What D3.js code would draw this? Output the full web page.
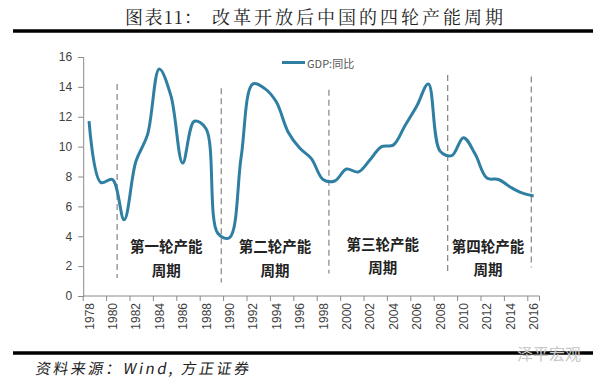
<!DOCTYPE html>
<html><head><meta charset="utf-8">
<script src="https://cdn.jsdelivr.net/npm/d3@7"></script>
<style>body{margin:0;background:#fff}svg{display:block}</style>
</head><body>
<svg id="c" width="600" height="379"></svg>
<script>
const years = d3.range(1978, 2017);
const gdp = [11.7,7.6,7.8,5.1,9.0,10.8,15.2,13.4,8.9,11.7,11.2,4.2,3.9,9.3,14.2,13.9,13.0,11.0,9.9,9.2,7.8,7.7,8.5,8.3,9.1,10.0,10.1,11.4,12.7,14.2,9.7,9.4,10.6,9.5,7.9,7.8,7.3,6.9,6.7];
const yTicks = [0,2,4,6,8,10,12,14,16];
const xTickYears = d3.range(1978, 2017, 2);
const cycleLines = [
  {year:1980.4, top:14.2, bottom:1.2},
  {year:1989.3, top:13.9, bottom:0.9},
  {year:1998.5, top:13.8, bottom:1.5},
  {year:2008.65, top:14.8, bottom:1.4},
  {year:2015.8, top:14.7, bottom:1.9}
];
const cycleLabels = [
  {year:1984.6, v1:3.35, v2:1.8, l1:"第一轮产能", l2:"周期"},
  {year:1993.9, v1:3.35, v2:1.8, l1:"第二轮产能", l2:"周期"},
  {year:2003.1, v1:3.5, v2:1.95, l1:"第三轮产能", l2:"周期"},
  {year:2012.1, v1:3.35, v2:1.85, l1:"第四轮产能", l2:"周期"}
];
const seriesName = "GDP:同比";
const titleLead = "图表11：";
const titleMain = "改革开放后中国的四轮产能周期";
const sourceText = "资料来源：Wind, 方正证券";

const svg = d3.select("#c");
const x = d3.scaleLinear().domain([1977.5, 2016.5]).range([83.2, 539.5]);
const y = d3.scaleLinear().domain([0, 16]).range([296, 57]);
const lineColor = "#2f7fa3";

// title
const tfont = "'Noto Serif CJK SC','Noto Sans CJK SC',serif";
svg.append("text").attr("x", 125).attr("y", 24).attr("letter-spacing",1.5)
  .attr("font-family",tfont).attr("font-size",18).attr("fill","#222").text(titleLead);
svg.append("text").attr("x", 212).attr("y", 24).attr("letter-spacing",3)
  .attr("font-family",tfont).attr("font-size",18).attr("fill","#222").text(titleMain);
svg.append("line").attr("x1",13).attr("x2",593).attr("y1",31).attr("y2",31)
  .attr("stroke","#000").attr("stroke-width",3.5);

// y axis
const ya = svg.append("g").attr("transform",`translate(${x.range()[0]},0)`)
  .call(d3.axisLeft(y).tickValues(yTicks).tickSize(5).tickPadding(6));
ya.select(".domain").attr("stroke","#8a8a8a");
ya.selectAll(".tick line").attr("stroke","#8a8a8a");
ya.selectAll("text").attr("font-family","'Liberation Sans',Arial,sans-serif").attr("font-size",12).attr("fill","#404040");

// x axis: ticks at category boundaries
const boundaries = d3.range(1977.5, 2017.5, 2);
const xa = svg.append("g").attr("transform","translate(0,296)");
xa.append("line").attr("x1",x.range()[0]).attr("x2",x.range()[1]).attr("stroke","#8a8a8a");
xa.selectAll("line.tk").data(boundaries.concat([2016.5])).join("line").attr("class","tk")
  .attr("x1",d=>x(d)).attr("x2",d=>x(d)).attr("y1",0).attr("y2",5).attr("stroke","#8a8a8a");
xa.selectAll("text").data(xTickYears).join("text")
  .attr("transform",d=>`translate(${x(d)+4.5},7) rotate(-90)`)
  .attr("text-anchor","end")
  .attr("font-family","'Liberation Sans',Arial,sans-serif").attr("font-size",12).attr("fill","#404040")
  .text(d=>d);

// dashed cycle lines
svg.selectAll("line.cyc").data(cycleLines).join("line").attr("class","cyc")
  .attr("x1",d=>x(d.year)).attr("x2",d=>x(d.year)).attr("y1",d=>y(d.top)).attr("y2",d=>y(d.bottom))
  .attr("stroke","#8c8c8c").attr("stroke-width",1.3).attr("stroke-dasharray","6,4");

// cycle labels
const lab = svg.selectAll("g.lab").data(cycleLabels).join("g").attr("class","lab");
lab.append("text").attr("x",d=>x(d.year)).attr("y",d=>y(d.v1)).attr("text-anchor","middle")
  .attr("dominant-baseline","central")
  .attr("font-family","'Noto Sans CJK SC',sans-serif").attr("font-weight","bold").attr("font-size",14.5).attr("fill","#222")
  .text(d=>d.l1);
lab.append("text").attr("x",d=>x(d.year)).attr("y",d=>y(d.v2)).attr("text-anchor","middle")
  .attr("dominant-baseline","central")
  .attr("font-family","'Noto Sans CJK SC',sans-serif").attr("font-weight","bold").attr("font-size",14.5).attr("fill","#222")
  .text(d=>d.l2);

// line
const line = d3.line().x((d,i)=>x(years[i])).y(d=>y(d)).curve(d3.curveCatmullRom.alpha(0.5));
svg.append("path").datum(gdp).attr("d",line).attr("fill","none")
  .attr("stroke",lineColor).attr("stroke-width",3).attr("stroke-linejoin","round");

// legend
svg.append("line").attr("x1",282).attr("x2",305).attr("y1",62.5).attr("y2",62.5)
  .attr("stroke",lineColor).attr("stroke-width",3);
svg.append("text").attr("x",307).attr("y",62.5).attr("dominant-baseline","central")
  .attr("font-family","'Noto Sans CJK SC',sans-serif").attr("font-size",11).attr("fill","#555").text(seriesName);

// footer
svg.append("line").attr("x1",13).attr("x2",593).attr("y1",353).attr("y2",353)
  .attr("stroke","#000").attr("stroke-width",3.5);
svg.append("text").attr("x",35).attr("y",374).attr("letter-spacing",2.5)
  .attr("font-family","'Noto Sans CJK SC',sans-serif").attr("font-size",15).attr("fill","#222")
  .attr("transform","translate(66,0) skewX(-10)").text(sourceText);
svg.append("text").attr("x",517).attr("y",353).attr("dominant-baseline","central")
  .attr("font-family","'Noto Sans CJK SC',sans-serif").attr("font-size",16).attr("fill","#c8c8c8").text("泽平宏观");
</script>
</body></html>
